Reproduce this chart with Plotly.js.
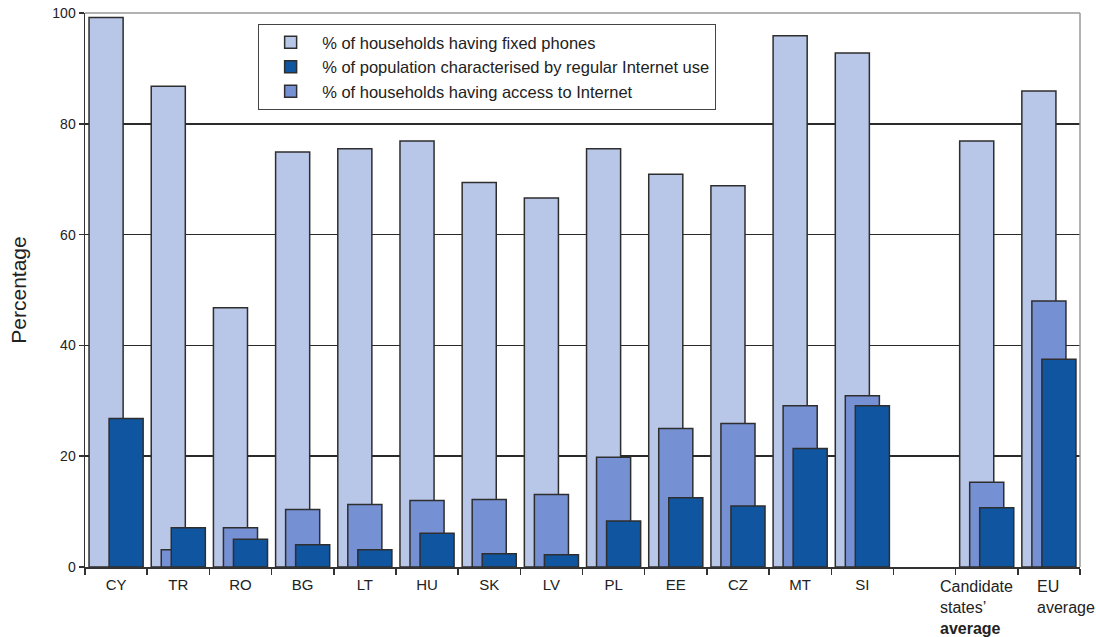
<!DOCTYPE html>
<html>
<head>
<meta charset="utf-8">
<script src="https://cdn.plot.ly/plotly-3.0.1.min.js"></script>
<style>html,body{margin:0;padding:0;background:#fff;}#chart{width:1096px;height:637px;}</style>
</head>
<body>
<div id="chart"></div>
<script>
const categories = ['CY','TR','RO','BG','LT','HU','SK','LV','PL','EE','CZ','MT','SI','gap','Candidate states average','EU average'];
const tickLabels = ['CY','TR','RO','BG','LT','HU','SK','LV','PL','EE','CZ','MT','SI','',
  'Candidate<br>states\u2019<br><b>average</b>', 'EU<br>average'];
const fixedPhones = [99.2,86.8,46.8,74.9,75.5,76.9,69.4,66.6,75.5,70.9,68.8,95.9,92.8,null,76.9,85.9];
const internetAccess = [null,3.1,7.1,10.4,11.3,12.0,12.2,13.1,19.8,25.0,25.9,29.1,30.9,null,15.3,48.0];
const regularUse = [26.8,7.1,5.0,4.0,3.1,6.1,2.4,2.2,8.3,12.5,11.0,21.4,29.1,null,10.7,37.5];
const seriesNames = ['% of households having fixed phones','% of population characterised by regular Internet use','% of households having access to Internet'];

const outline = {color:'#2e2e2e', width:1.5};
const W = 0.548;
const traces = [
  {type:'bar', x:categories, y:fixedPhones, name:seriesNames[0], legendrank:1,
   offset:-0.435, width:W, marker:{color:'#b8c6e8', line:outline}},
  {type:'bar', x:categories, y:internetAccess, name:seriesNames[2], legendrank:3,
   offset:-0.274, width:W, marker:{color:'#7690d4', line:outline}},
  {type:'bar', x:categories, y:regularUse, name:seriesNames[1], legendrank:2,
   offset:-0.113, width:W, marker:{color:'#0f55a0', line:outline}}
];

// multi-line labels of the two average groups are left-aligned as in the reference
const multiLine = [14, 15];
const shifts = {14:-49, 15:-14};
const axisText = tickLabels.map((t, i) => multiLine.includes(i) ? '' : t);
const annotations = multiLine.map(i => ({
  x: categories[i], xref:'x', y:0, yref:'paper', xanchor:'left', yanchor:'top',
  xshift: shifts[i], yshift:-9, align:'left', showarrow:false,
  text: tickLabels[i], font:{size:16, color:'#222'}
}));

const layout = {
  width:1096, height:637,
  margin:{l:85, r:16, t:13, b:70},
  paper_bgcolor:'#fff', plot_bgcolor:'#fff',
  font:{family:'Liberation Sans, Arial, sans-serif', color:'#222'},
  barmode:'overlay',
  showlegend:true,
  legend:{x:0.174, y:0.98, xanchor:'left', yanchor:'top', bgcolor:'#fff',
          bordercolor:'#444', borderwidth:1, font:{size:16.5, color:'#222'},
          traceorder:'normal', itemwidth:53},
  xaxis:{type:'category', categoryorder:'array', categoryarray:categories,
         tickmode:'array', tickvals:categories, ticktext:axisText,
         tickson:'boundaries', ticks:'outside', ticklen:6, tickcolor:'#333', tickwidth:1.5,
         tickangle:0, ticklabelstandoff:3,
         showline:true, linecolor:'#333', linewidth:1.5, showgrid:false,
         tickfont:{size:15, color:'#222'}, range:[-0.5,15.5], fixedrange:true},
  yaxis:{range:[0,100], tickvals:[0,20,40,60,80,100], ticks:'outside', ticklen:5,
         tickcolor:'#333', tickwidth:1.5, showline:true, linecolor:'#333', linewidth:1.5,
         showgrid:true, gridcolor:'#2a2a2a', gridwidth:1.5, zeroline:false,
         tickfont:{size:14, color:'#222'},
         title:{text:'Percentage', font:{size:21, color:'#222'}, standoff:20}},
  annotations: annotations,
  shapes:[
    {type:'line', xref:'paper', yref:'paper', x0:0, x1:1, y0:1, y1:1, line:{color:'#999', width:1.5}},
    {type:'line', xref:'paper', yref:'paper', x0:1, x1:1, y0:0, y1:1, line:{color:'#999', width:1.5}}
  ]
};
Plotly.newPlot('chart', traces, layout, {staticPlot:true, displayModeBar:false});
</script>
</body>
</html>
